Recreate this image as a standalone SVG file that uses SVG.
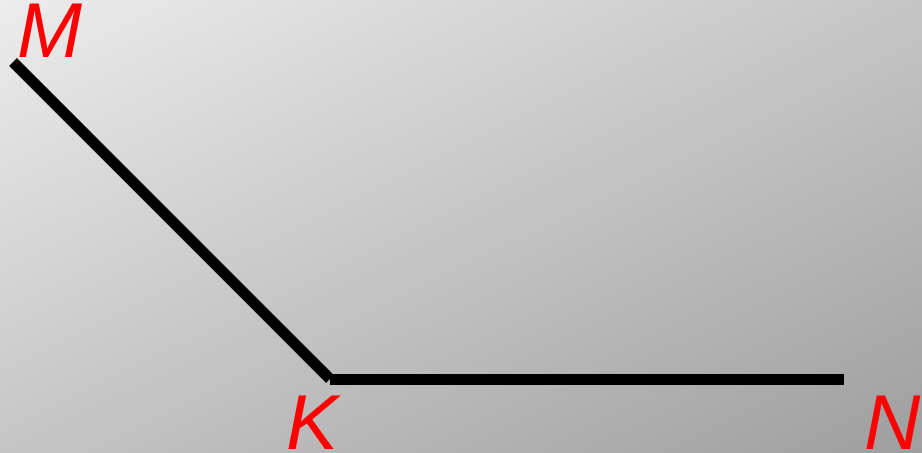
<svg xmlns="http://www.w3.org/2000/svg" width="922" height="453" viewBox="0 0 922 453">
<style>
.lbl{font-family:"Liberation Sans",Arial,sans-serif;font-style:italic;font-size:78px;fill:#ff0000}
.seg{stroke:#000;stroke-width:11;fill:none;stroke-linecap:butt}
</style>
<defs>
<linearGradient id="bg" x1="0" y1="0" x2="1" y2="1">
<stop offset="0" stop-color="#ececec"/>
<stop offset="1" stop-color="#9e9e9e"/>
</linearGradient>
</defs>
<rect width="922" height="453" fill="url(#bg)"/>
<g id="connectors">
<line class="seg" x1="13" y1="62" x2="330" y2="379"/>
<line class="seg" x1="330" y1="379.5" x2="844" y2="379.5"/>
</g>
<g id="M"><text class="lbl" x="17" y="57">M</text></g>
<g id="K"><text class="lbl" x="286" y="449">K</text></g>
<g id="N"><text class="lbl" x="864" y="449">N</text></g>
</svg>
